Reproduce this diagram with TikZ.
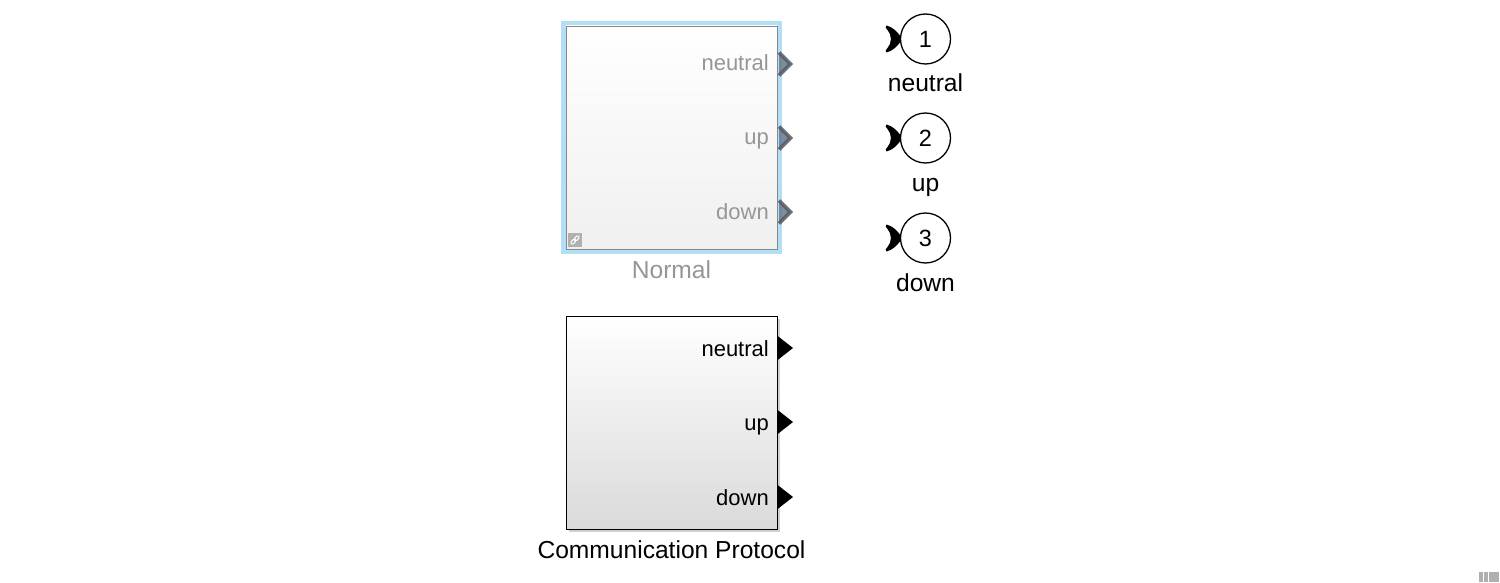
\documentclass[tikz,border=0pt]{standalone}
\usepackage{fontspec}
\setmainfont{Liberation Sans}
\definecolor{hilite}{RGB}{178,222,246}
\definecolor{dimborder}{RGB}{136,136,136}
\definecolor{dimtext}{RGB}{150,150,150}
\definecolor{dimport}{RGB}{84,90,96}
\definecolor{dimportfill}{RGB}{100,122,142}
\definecolor{botgray}{RGB}{218,218,218}
\definecolor{icongray}{RGB}{176,176,176}
\begin{document}
\begin{tikzpicture}[x=1pt,y=-1pt,
  portlbl/.style={anchor=base east,inner sep=0pt,font=\fontsize{22}{26}\selectfont},
  namelbl/.style={anchor=base,inner sep=0pt,font=\fontsize{24.6}{28}\selectfont},
  outcircle/.style={circle,draw=black,line width=1.3pt,fill=white,minimum size=50pt,inner sep=0pt,font=\fontsize{23.5}{27}\selectfont},
  blackport/.style={fill=black},
  dimchev/.style={draw=dimport,line width=3.6pt,fill=dimportfill,line join=miter,opacity=0.85}
]
\useasboundingbox (0,0) rectangle (1500,583);

% ---------- Normal block (dimmed, highlighted) ----------
\draw[hilite,line width=5pt] (563.5,23.5) rectangle (779.5,251.5);
\shade[top color=white,bottom color=black!6] (566,26) rectangle (777,249);
\node[draw=dimborder,line width=1.4pt,minimum width=211pt,minimum height=223pt,inner sep=0pt,anchor=north west] (normal) at (566,26) {};
% link badge
\fill[icongray] (568,233) rectangle (582,247);
\draw[white,line width=1.1pt,rounded corners=1.5pt,rotate around={45:(575,240)}] (569.5,238.5) rectangle (575.5,241.5);
\draw[white,line width=1.1pt,rounded corners=1.5pt,rotate around={45:(575,240)}] (574.5,238.5) rectangle (580.5,241.5);
% ports
\foreach \py/\nm in {64/nneutral,138/nup,212/ndown}{
  \draw[dimchev] (779,\py-11.5) -- (790.5,\py) -- (779,\py+11.5);
  \coordinate (\nm) at (791,\py);
}
\node[portlbl,text=dimtext] (nlbl1) at (769,71) {neutral};
\node[portlbl,text=dimtext] (nlbl2) at (769,145) {up};
\node[portlbl,text=dimtext] (nlbl3) at (769,219) {down};
\node[namelbl,text=dimtext] (normalname) at (671.5,278) {Normal};

% ---------- Communication Protocol block ----------
\fill[black!18] (568.5,318.5) rectangle (779.5,531.5);
\shade[top color=white,middle color=white!95!black,bottom color=botgray] (566,316) rectangle (777,529);
\node[draw=black,line width=1.2pt,minimum width=211pt,minimum height=213pt,inner sep=0pt,anchor=north west] (comm) at (566,316) {};
\foreach \py/\nm in {348/cneutral,422/cup,497/cdown}{
  \fill[blackport] (777,\py-12.5) -- (793,\py) -- (777,\py+12.5) -- cycle;
  \coordinate (\nm) at (793,\py);
}
\node[portlbl] (clbl1) at (769,356) {neutral};
\node[portlbl] (clbl2) at (769,430) {up};
\node[portlbl] (clbl3) at (769,505) {down};
\node[namelbl] (commname) at (671.5,558) {Communication Protocol};

% ---------- Outports ----------
\foreach \n/\cy/\lbl/\by in {1/39/neutral/92, 2/138/up/191, 3/238/down/291}{
  \fill[blackport,line join=round] (886.5,\cy-13.5) .. controls (893,\cy-12) and (899,\cy-6) .. (902,\cy)
     .. controls (899,\cy+6) and (893,\cy+12) .. (886.5,\cy+13.5)
     .. controls (885,\cy+12.5) and (885.5,\cy+10.5) .. (887.5,\cy+9)
     .. controls (892,\cy+4) and (892,\cy-4) .. (887.5,\cy-9)
     .. controls (885.5,\cy-10.5) and (885,\cy-12.5) .. (886.5,\cy-13.5) -- cycle;
  \node[outcircle] (out\n) at (925.5,\cy) {\n};
  \node[namelbl] (outlbl\n) at (925.5,\by) {\lbl};
}

% ---------- corner indicator ----------
\fill[icongray] (1479,572) rectangle (1483,582);
\fill[icongray] (1484,572) rectangle (1487.5,582);
\fill[icongray] (1489,572) rectangle (1499,582);
\end{tikzpicture}
\end{document}
